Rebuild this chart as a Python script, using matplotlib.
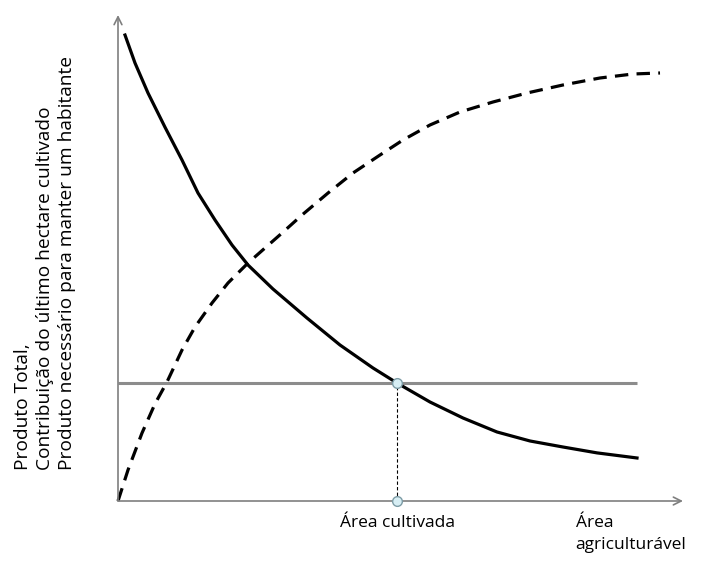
import matplotlib
matplotlib.use("Agg")
import matplotlib.pyplot as plt

# Contribuição do último hectare cultivado (linha cheia, decrescente)
contrib_x = [0.124, 0.301, 0.531, 0.832, 1.133, 1.416, 1.717, 2.018, 2.301, 2.743,
             3.345, 3.929, 4.513, 4.938, 5.522, 6.106, 6.708, 7.292, 7.876, 8.478, 9.186]
contrib_y = [9.588, 9.012, 8.395, 7.691, 7.016, 6.337, 5.782, 5.267, 4.856, 4.362,
             3.765, 3.210, 2.737, 2.428, 2.037, 1.708, 1.420, 1.235, 1.111, 0.990, 0.885]

# Produto total (tracejada, crescente)
total_x = [0.000, 0.177, 0.425, 0.655, 0.867, 1.133, 1.363, 1.664, 1.947, 2.301,
           2.602, 2.903, 3.257, 3.717, 4.159, 4.637, 5.044, 5.522, 6.053, 6.637,
           7.239, 7.876, 8.531, 9.115, 9.593]
total_y = [0.000, 0.638, 1.399, 2.000, 2.449, 3.107, 3.580, 4.074, 4.486, 4.897,
           5.206, 5.514, 5.885, 6.337, 6.749, 7.119, 7.428, 7.737, 8.004, 8.210,
           8.395, 8.560, 8.704, 8.786, 8.807]

# Produto necessário para manter um habitante (horizontal)
nivel_y = 2.43
nivel_x = [0.0, 9.19]

# Ponto de área cultivada
area_cultivada = 4.94
x_max, y_max = 10.0, 10.0

fonte = "Open Sans"

fig = plt.figure(figsize=(7.03, 5.63), dpi=100)
ax = fig.add_axes([118 / 703, (563 - 501) / 563, 565 / 703, 486 / 563])
ax.set_xlim(0, x_max)
ax.set_ylim(0, y_max)
ax.axis("off")

# eixos com seta
eixo = "#7f7f7f"
for fim in [(x_max, 0), (0, y_max)]:
    ax.annotate("", xy=fim, xytext=(0, 0),
                arrowprops=dict(arrowstyle="->", color=eixo, lw=1.2,
                                mutation_scale=14, shrinkA=0, shrinkB=0),
                annotation_clip=False)

ax.plot(nivel_x, [nivel_y, nivel_y], color="#8c8c8c", lw=2.2, solid_capstyle="butt")
ax.plot(total_x, total_y, color="black", lw=2.3, dashes=(4.2, 2.6), clip_on=False)
ax.plot(contrib_x, contrib_y, color="black", lw=2.3, clip_on=False)

ax.plot([area_cultivada, area_cultivada], [0, nivel_y], color="black", lw=0.8,
        dashes=(3, 2))
ax.plot([area_cultivada, area_cultivada], [0, nivel_y], "o", ms=7,
        mfc="#d7eef4", mec="#7d9ca6", mew=1.0, clip_on=False, zorder=5)

ax.text(area_cultivada, -0.28, "Área cultivada", ha="center", va="top",
        fontsize=12.5, family=fonte)
ax.text(8.1, -0.28, "Área\nagriculturável", ha="left", va="top",
        fontsize=12.5, family=fonte, linespacing=1.5)

fig.text(14 / 703, (563 - 470) / 563,
         "Produto Total,\nContribuição do último hectare cultivado\n"
         "Produto necessário para manter um habitante",
         rotation=90, ha="left", va="bottom", fontsize=13.8, family=fonte,
         linespacing=1.3, multialignment="left")

fig.savefig("out.png", dpi=100)
